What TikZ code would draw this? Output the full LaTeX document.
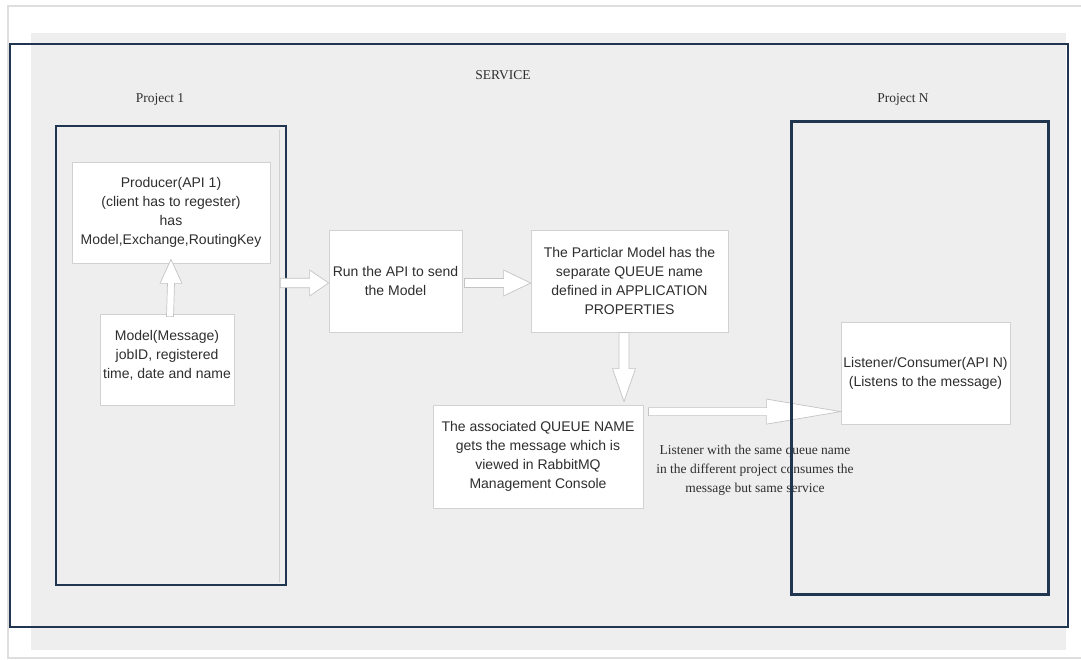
\documentclass[tikz,border=0pt]{standalone}
\usepackage{fontspec}
\setmainfont{Liberation Serif}
\newfontfamily\boxfont{Liberation Sans}
\usetikzlibrary{calc}
\definecolor{navy}{HTML}{1F3550}
\definecolor{bggray}{HTML}{EEEEEE}
\definecolor{txtgray}{HTML}{2E2E2E}
\definecolor{boxline}{HTML}{D2D2D2}
\definecolor{arrline}{HTML}{C4C4C4}
\tikzset{
  procbox/.style={draw=boxline, line width=0.8pt, fill=white, align=center, text=txtgray,
    font=\boxfont\fontsize{14}{18.8}\selectfont, inner sep=0pt},
  projbox/.style={draw=navy, line width=2.6pt},
  serlabel/.style={text=txtgray, align=center, font=\fontsize{13.5}{19}\selectfont, inner sep=0pt},
  barr/.style={draw=arrline, line width=0.7pt, fill=white, line join=miter},
}
% horizontal block arrow (rightwards): start, end, shaft half, head half, head length
\newcommand{\hbarrow}[5]{\draw[barr] ($(#1)+(0,#3)$) -- ($(#2)+(-#5,#3)$) -- ($(#2)+(-#5,#4)$) -- (#2) -- ($(#2)+(-#5,-#4)$) -- ($(#2)+(-#5,-#3)$) -- ($(#1)+(0,-#3)$) -- cycle;}
% downward block arrow
\newcommand{\dbarrow}[5]{\draw[barr] ($(#1)+(-#3,0)$) -- ($(#2)+(-#3,-#5)$) -- ($(#2)+(-#4,-#5)$) -- (#2) -- ($(#2)+(#4,-#5)$) -- ($(#2)+(#3,-#5)$) -- ($(#1)+(#3,0)$) -- cycle;}
% upward block arrow
\newcommand{\ubarrow}[5]{\draw[barr] ($(#1)+(-#3,0)$) -- ($(#2)+(-#3,#5)$) -- ($(#2)+(-#4,#5)$) -- (#2) -- ($(#2)+(#4,#5)$) -- ($(#2)+(#3,#5)$) -- ($(#1)+(#3,0)$) -- cycle;}
\begin{document}
\begin{tikzpicture}[x=1pt,y=-1pt]
\useasboundingbox (0,0) rectangle (1081,660);
\fill[white] (0,0) rectangle (1081,660);
% page edge
\draw[draw=black!13, line width=1.2pt] (1081,6) -- (8,6) -- (8,658) -- (1081,658);
% gray background
\fill[bggray] (31,33) rectangle (1066,650);
% outer service border
\draw[projbox] (10,44) rectangle (1068,627);
\node[serlabel] (service) at (503,75) {SERVICE};
\node[serlabel] (p1label) at (160,99) {Project 1};
\node[serlabel] (pnlabel) at (903,99) {Project N};
% Project 1 container
\draw[draw=black!18, line width=0.8pt] (279,130) -- (279,582);
\node[projbox, minimum width=230pt, minimum height=459pt, inner sep=0pt] (proj1) at (171,355.5) {};
% boxes
\node[procbox, minimum width=198pt, minimum height=101pt] (prod) at (171,212.5)
  {Producer(API 1)\\(client has to regester)\\has\\Model,Exchange,RoutingKey};
\node[procbox, minimum width=134pt, minimum height=91pt, text depth=10pt] (model) at (167,359.5)
  {Model(Message)\\jobID, registered\\time, date and name};
\node[procbox, minimum width=133pt, minimum height=102pt] (run) at (395.5,281)
  {Run the API to send\\the Model};
\node[procbox, minimum width=197pt, minimum height=102pt] (part) at (629.5,281)
  {The Particlar Model has the\\separate QUEUE name\\defined in APPLICATION\\PROPERTIES};
\node[procbox, minimum width=210pt, minimum height=103pt] (queue) at (538,456.5)
  {The associated QUEUE NAME\\gets the message which is\\viewed in RabbitMQ\\Management Console};
\node[procbox, minimum width=169pt, minimum height=102pt] (listener) at (925.5,373)
  {Listener/Consumer(API N)\\(Listens to the message)};
% arrow end points
\coordinate (a1s) at ([xshift=3pt,yshift=-3pt]model.north);
\coordinate (a1e) at ([yshift=4pt]prod.south);
\coordinate (a2s) at ([xshift=-7pt,yshift=-2pt]proj1.east |- run.west);
\coordinate (a2e) at ([yshift=-2pt]run.west);
\coordinate (a3s) at ([xshift=2pt,yshift=-2pt]run.east);
\coordinate (a3e) at ([yshift=-2pt]part.west);
\coordinate (a4s) at ([xshift=-5.5pt]part.south);
\coordinate (a4e) at ([xshift=-5.5pt,yshift=3pt]part.south |- queue.north);
\coordinate (a5s) at ([xshift=5pt,yshift=-7pt]queue.north east);
\coordinate (a5e) at (listener.west |- a5s);
% block arrows
\ubarrow{a1s}{a1e}{3.5}{11}{24}
\hbarrow{a2s}{a2e}{4.7}{13}{19}
\hbarrow{a3s}{a3e}{4.5}{13}{27}
\dbarrow{a4s}{a4e}{5}{11.5}{33}
\hbarrow{a5s}{a5e}{4}{12.5}{74}
% label
\node[serlabel] (note) at (755,470)
  {Listener with the same queue name\\in the different project consumes the\\message but same service};
% Project N container (drawn on top)
\node[projbox, minimum width=257pt, minimum height=473pt, inner sep=0pt] (projN) at (920,358) {};
\end{tikzpicture}
\end{document}
